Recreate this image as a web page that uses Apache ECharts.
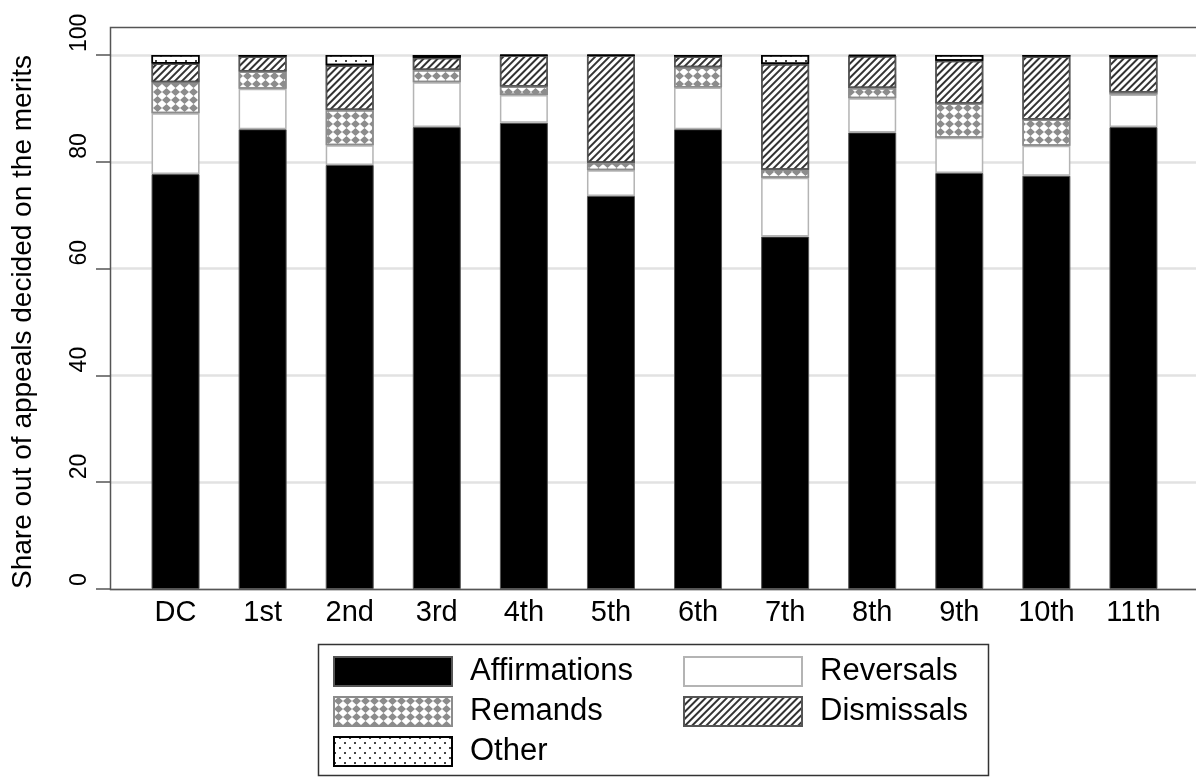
<!DOCTYPE html>
<html>
<head>
<meta charset="utf-8">
<script src="https://cdn.jsdelivr.net/npm/echarts@6/dist/echarts.min.js"></script>
<style>
  html, body { margin: 0; padding: 0; background: #ffffff; }
  #chart { width: 1196px; height: 777px; }
</style>
</head>
<body>
<div id="chart"></div>
<script>
// Circuit courts on the horizontal axis
const circuits = ['DC', '1st', '2nd', '3rd', '4th', '5th', '6th', '7th', '8th', '9th', '10th', '11th'];

// Share of appeals decided on the merits, by outcome (percent)
const affirmations = [77.7, 86.1, 79.4, 86.5, 87.3, 73.6, 86.1, 66.0, 85.5, 77.9, 77.4, 86.5];
const reversals    = [11.4,  7.6,  3.7,  8.4,  5.2,  4.8,  7.8, 11.0,  6.4,  6.6,  5.6,  6.1];
const remands      = [ 5.8,  3.2,  6.6,  2.3,  1.6,  1.4,  3.8,  1.5,  1.9,  6.4,  4.9,  0.4];
const dismissals   = [ 3.5,  2.8,  8.4,  2.3,  5.8, 20.1,  2.0, 19.8,  6.0,  8.0, 11.8,  6.6];
const other        = [ 1.6,  0.3,  1.9,  0.5,  0.1,  0.1,  0.3,  1.7,  0.2,  1.1,  0.3,  0.4];

// Value axis ticks
const yTicks = [0, 20, 40, 60, 80, 100];

const FONT = '"Liberation Sans", Arial, sans-serif';
const GRID_TOP = 55, GRID_BOTTOM = 188;

const chart = echarts.init(document.getElementById('chart'), null, { renderer: 'canvas' });

function barSeries(name, values, itemStyle) {
  return {
    name: name,
    type: 'bar',
    stack: 'total',
    xAxisIndex: 1,
    yAxisIndex: 1,
    barWidth: 48,
    data: values,
    itemStyle: itemStyle,
    emphasis: { disabled: true }
  };
}

const legendCommon = {
  orient: 'horizontal',
  icon: 'rect',
  itemWidth: 118,
  itemHeight: 29,
  padding: 0,
  selectedMode: false,
  textStyle: { fontFamily: FONT, fontSize: 31, color: '#000', padding: [0, 0, 0, 13] }
};

const option = {
  animation: false,
  backgroundColor: '#ffffff',
  grid: [
    // frame grid: carries the value axis, its ticks and the horizontal rules
    { left: 110, right: -20, top: GRID_TOP, bottom: GRID_BOTTOM },
    // bar grid
    { left: 132, right: 19, top: GRID_TOP, bottom: GRID_BOTTOM }
  ],
  xAxis: [
    { gridIndex: 0, type: 'value', min: 0, max: 1, show: false },
    {
      gridIndex: 1,
      type: 'category',
      data: circuits,
      axisLine: { show: false },
      axisTick: { show: false },
      axisLabel: { fontFamily: FONT, fontSize: 29, color: '#000', margin: 9 }
    }
  ],
  yAxis: [
    {
      gridIndex: 0,
      type: 'value',
      min: yTicks[0],
      max: yTicks[yTicks.length - 1],
      interval: yTicks[1] - yTicks[0],
      name: 'Share out of appeals decided on the merits',
      nameLocation: 'middle',
      nameRotate: 90,
      nameGap: 73,
      nameTextStyle: { fontFamily: FONT, fontSize: 28, color: '#000' },
      axisLine: { show: false },
      axisTick: { show: true, length: 14, lineStyle: { color: '#555', width: 1.5 } },
      axisLabel: {
        rotate: 90, align: 'left', verticalAlign: 'bottom',
        padding: [0, 0, 0, 3],
        fontFamily: FONT, fontSize: 23, color: '#000', margin: 19
      },
      splitLine: { show: true, lineStyle: { color: '#e2e2e2', width: 2.5 } }
    },
    {
      gridIndex: 1,
      type: 'value',
      min: yTicks[0],
      max: yTicks[yTicks.length - 1],
      show: false,
      splitLine: { show: false }
    }
  ],
  legend: [
    Object.assign({ data: ['Affirmations'], left: 333, top: 656 }, legendCommon),
    Object.assign({ data: ['Reversals'],    left: 683, top: 656 }, legendCommon),
    Object.assign({ data: ['Remands'],      left: 333, top: 696 }, legendCommon),
    Object.assign({ data: ['Dismissals'],   left: 683, top: 696 }, legendCommon),
    Object.assign({ data: ['Other'],        left: 333, top: 736 }, legendCommon)
  ],
  graphic: [
    // plot frame: top rule, left axis line and baseline
    {
      type: 'polyline',
      z: 10,
      silent: true,
      shape: { points: [[1200, 27.5], [110.5, 27.5], [110.5, 589.5], [1200, 589.5]] },
      style: { stroke: '#555', lineWidth: 1.5, fill: null }
    },
    // legend box
    {
      type: 'rect',
      z: 10,
      silent: true,
      shape: { x: 318.5, y: 644.5, width: 670, height: 131 },
      style: { stroke: '#333', lineWidth: 1.5, fill: null }
    }
  ],
  series: [
    barSeries('Affirmations', affirmations, { color: '#000000', borderColor: '#555555', borderWidth: 1 }),
    barSeries('Reversals', reversals, { color: '#ffffff', borderColor: '#b4b4b4', borderWidth: 1.5 }),
    barSeries('Remands', remands, {
      color: '#ffffff', borderColor: '#8c8c8c', borderWidth: 1.5,
      decal: { symbol: 'diamond', symbolSize: 1, color: '#8c8c8c', dashArrayX: [9, 0], dashArrayY: [8, 0] }
    }),
    barSeries('Dismissals', dismissals, {
      color: '#ffffff', borderColor: '#555555', borderWidth: 1.5,
      decal: { symbol: 'rect', symbolSize: 1, color: '#333333', dashArrayX: [1, 0], dashArrayY: [2, 3], rotation: -Math.PI / 4 }
    }),
    barSeries('Other', other, {
      color: '#ffffff', borderColor: '#000000', borderWidth: 1.5,
      decal: { symbol: 'rect', symbolSize: 1, color: '#444444', dashArrayX: [[1.5, 7.5], [0, 4.5, 1.5, 3]], dashArrayY: [1.5, 3] }
    })
  ]
};

chart.setOption(option);
</script>
</body>
</html>
